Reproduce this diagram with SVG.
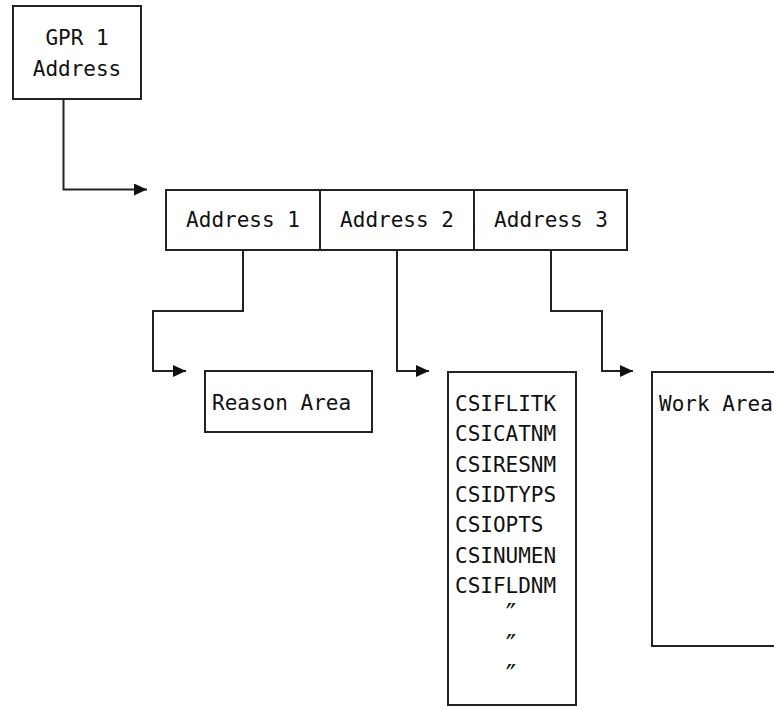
<svg xmlns="http://www.w3.org/2000/svg" width="774" height="706" viewBox="0 0 774 706">
  <style>
    .box { fill: #ffffff; stroke: #222222; stroke-width: 2; }
    .wire { fill: none; stroke: #222222; stroke-width: 2; }
    .lbl { font-family: "DejaVu Sans Mono", "Liberation Mono", monospace; font-size: 21px; fill: #111111; }
    .mid { text-anchor: middle; }
    .ditto { font-family: "DejaVu Sans Mono", "Liberation Mono", monospace; font-size: 28px; fill: #111111; text-anchor: middle; }
  </style>
  <defs>
    <marker id="arrow" viewBox="0 0 13 12" refX="13" refY="6" markerWidth="13" markerHeight="12" markerUnits="userSpaceOnUse" orient="auto">
      <path d="M0,0 L13,6 L0,12 Z" fill="#111111"/>
    </marker>
  </defs>

  <rect width="774" height="706" fill="#ffffff"/>

  <!-- connectors -->
  <g id="connectors">
    <path class="wire" d="M63.5,99 V189.5 H147" marker-end="url(#arrow)"/>
    <path class="wire" d="M243,250 V311 H153 V371 H186" marker-end="url(#arrow)"/>
    <path class="wire" d="M397,250 V371 H429" marker-end="url(#arrow)"/>
    <path class="wire" d="M551,250 V311 H602 V371 H633" marker-end="url(#arrow)"/>
  </g>

  <!-- register box -->
  <g id="gpr1">
    <rect class="box" x="13" y="6" width="128" height="93"/>
    <text class="lbl mid" x="77" y="45">GPR 1</text>
    <text class="lbl mid" x="77" y="76">Address</text>
  </g>

  <!-- address list -->
  <g id="address1">
    <rect class="box" x="166" y="190" width="154" height="60"/>
    <text class="lbl mid" x="243" y="227">Address 1</text>
  </g>
  <g id="address2">
    <rect class="box" x="320" y="190" width="154" height="60"/>
    <text class="lbl mid" x="397" y="227">Address 2</text>
  </g>
  <g id="address3">
    <rect class="box" x="474" y="190" width="153" height="60"/>
    <text class="lbl mid" x="551" y="227">Address 3</text>
  </g>

  <!-- target areas -->
  <g id="reason-area">
    <rect class="box" x="205" y="371" width="167" height="61"/>
    <text class="lbl" x="212" y="410">Reason Area</text>
  </g>

  <g id="name-list">
    <rect class="box" x="448" y="372" width="128" height="333"/>
    <text class="lbl" x="455" y="411">CSIFLITK</text>
    <text class="lbl" x="455" y="441.3">CSICATNM</text>
    <text class="lbl" x="455" y="471.6">CSIRESNM</text>
    <text class="lbl" x="455" y="502">CSIDTYPS</text>
    <text class="lbl" x="455" y="532.3">CSIOPTS</text>
    <text class="lbl" x="455" y="562.6">CSINUMEN</text>
    <text class="lbl" x="455" y="593">CSIFLDNM</text>
    <text class="ditto" x="511" y="624">″</text>
    <text class="ditto" x="511" y="655">″</text>
    <text class="ditto" x="511" y="685">″</text>
  </g>

  <g id="work-area">
    <rect class="box" x="652" y="372" width="140" height="274"/>
    <text class="lbl" x="659" y="411">Work Area</text>
  </g>
</svg>
